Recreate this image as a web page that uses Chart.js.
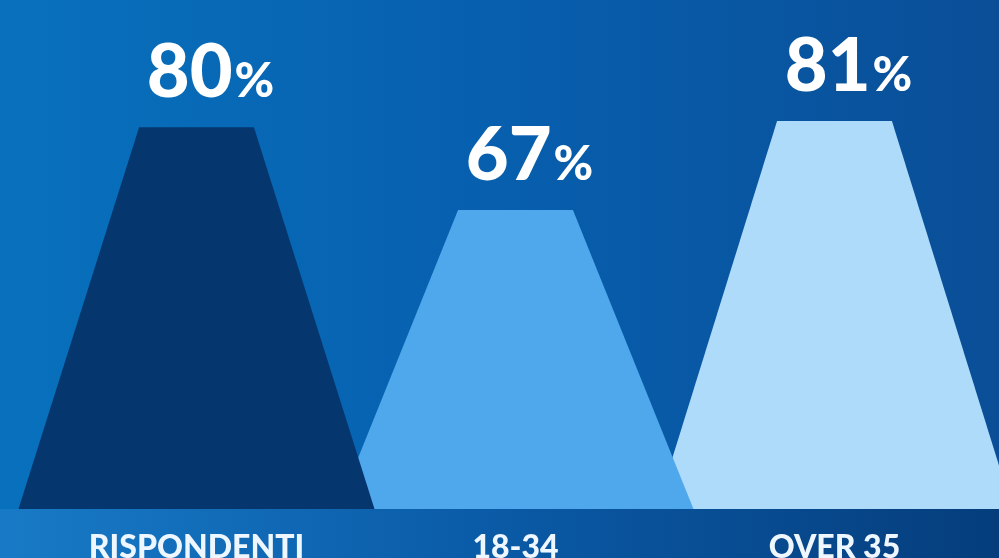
<!DOCTYPE html>
<html>
<head>
<meta charset="utf-8">
<script src="https://cdn.jsdelivr.net/npm/chart.js@4"></script>
<style>
  html, body { margin: 0; padding: 0; background: #0a5fae; }
  #wrap { width: 999px; height: 558px; }
</style>
</head>
<body>
<div id="wrap"><canvas id="chart" width="999" height="558"></canvas></div>
<script>
// data
var categories = ["RISPONDENTI", "18-34", "OVER 35"];
var values = [80, 67, 81];
var colors = ["#05376e", "#50a8ec", "#afdbfb"];

// background: blue gradient plus a darker band under the shapes
const backdrop = {
    id: 'backdrop',
    beforeDraw(chart) {
        const ctx = chart.ctx;
        const w = chart.width, h = chart.height;
        const area = chart.chartArea;
        ctx.save();
        let g = ctx.createLinearGradient(0, 0, w, 0);
        g.addColorStop(0, '#0871bd');
        g.addColorStop(0.5, '#075fae');
        g.addColorStop(1, '#0a4e97');
        ctx.fillStyle = g;
        ctx.fillRect(0, 0, w, h);
        let b = ctx.createLinearGradient(0, 0, w, 0);
        b.addColorStop(0, '#187ac6');
        b.addColorStop(0.5, '#0a5aa6');
        b.addColorStop(1, '#053d7c');
        ctx.fillStyle = b;
        ctx.fillRect(0, area.bottom, w, h - area.bottom);
        ctx.restore();
    }
};

// draw each bar as a trapezoid, right one first so left ones overlap
const trapezoids = {
    id: 'trapezoids',
    beforeDatasetDraw(chart, args) {
        const ctx = chart.ctx;
        const bars = args.meta.data;
        ctx.save();
        for (let i = bars.length - 1; i >= 0; i--) {
            const bar = bars[i];
            const top = bar.width / 2;
            const bottom = top * 3.1;
            ctx.beginPath();
            ctx.moveTo(bar.x - top, bar.y);
            ctx.lineTo(bar.x + top, bar.y);
            ctx.lineTo(bar.x + bottom, bar.base);
            ctx.lineTo(bar.x - bottom, bar.base);
            ctx.closePath();
            ctx.fillStyle = colors[i];
            ctx.fill();
        }
        ctx.restore();
        return false;
    },
    afterDatasetsDraw(chart) {
        const ctx = chart.ctx;
        const bars = chart.getDatasetMeta(0).data;
        ctx.save();
        ctx.fillStyle = '#ffffff';
        ctx.textBaseline = 'alphabetic';
        bars.forEach((bar, i) => {
            const num = String(values[i]);
            ctx.font = '900 74px Lato';
            const nw = ctx.measureText(num).width;
            ctx.font = '900 48px Lato';
            const pw = ctx.measureText('%').width;
            const x0 = bar.x + 14 - (nw + pw + 2) / 2;
            const y = bar.y - 30;
            ctx.font = '900 74px Lato';
            ctx.fillText(num, x0, y);
            ctx.font = '900 48px Lato';
            ctx.fillText('%', x0 + nw + 2, y);
        });
        ctx.restore();
    }
};

new Chart(document.getElementById('chart'), {
    type: 'bar',
    data: {
        labels: categories,
        datasets: [{
            data: values,
            base: 20,
            backgroundColor: colors,
            barPercentage: 0.36,
            categoryPercentage: 1
        }]
    },
    options: {
        responsive: false,
        animation: false,
        layout: { padding: { left: 37, right: 5, top: 0, bottom: -29 } },
        plugins: {
            legend: { display: false },
            tooltip: { enabled: false }
        },
        scales: {
            x: {
                grid: { display: false, drawTicks: false },
                border: { display: false },
                ticks: {
                    color: '#eef7ff',
                    padding: 23,
                    font: { family: 'Lato', weight: '900', size: 32, lineHeight: 1 }
                }
            },
            y: {
                display: false,
                min: 20,
                max: 100
            }
        }
    },
    plugins: [backdrop, trapezoids]
});
</script>
</body>
</html>
